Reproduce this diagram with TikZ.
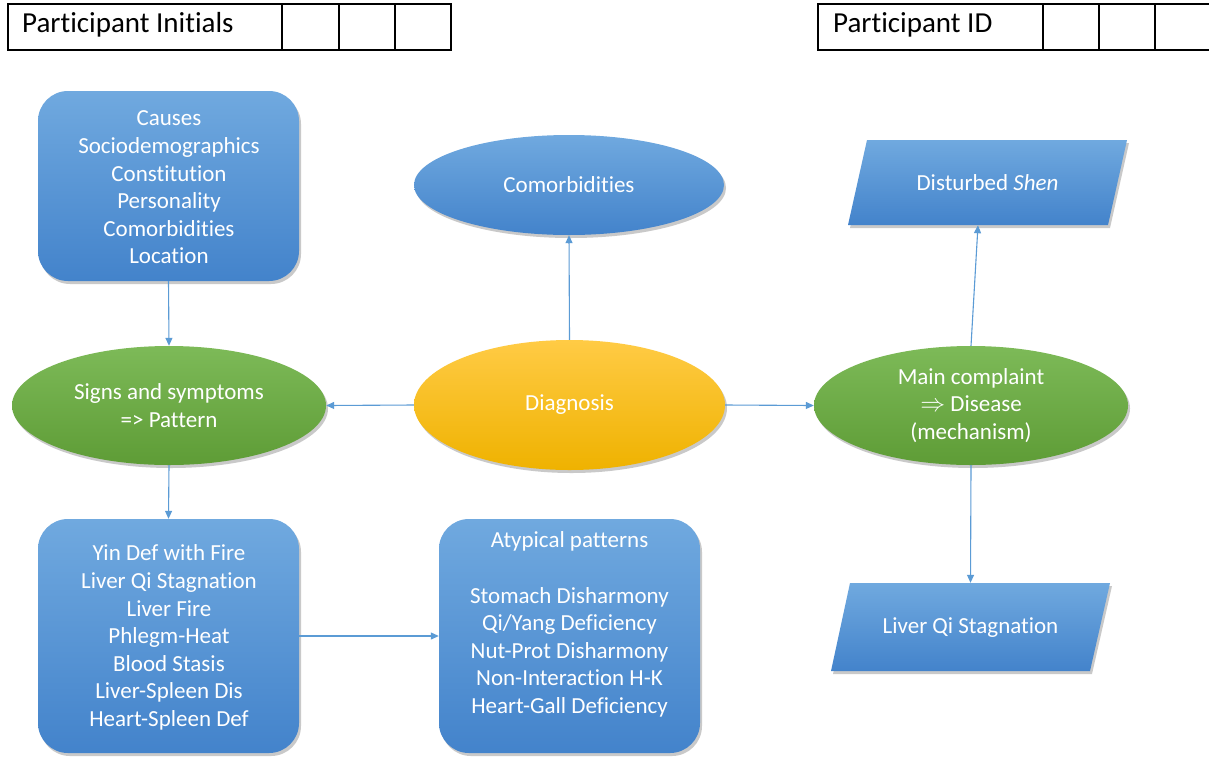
\documentclass[tikz,border=0pt]{standalone}
\usepackage{fontspec}
\setmainfont[Ligatures=NoCommon]{Carlito}
\usetikzlibrary{shapes.geometric,shadows,arrows.meta}
\definecolor{bluetop}{HTML}{70A9DF}
\definecolor{bluebot}{HTML}{4383CB}
\definecolor{greentop}{HTML}{7DBA58}
\definecolor{greenbot}{HTML}{5E9C36}
\definecolor{goldtop}{HTML}{FFCB45}
\definecolor{goldbot}{HTML}{EFB200}
\definecolor{conncol}{HTML}{5B9BD5}
\begin{document}
\begin{tikzpicture}[x=1pt,y=-1pt,
  txt/.style={text=white, align=center, font=\fontsize{23}{27.6}\selectfont, inner sep=0pt},
  shad/.style={drop shadow={opacity=0.35, shadow xshift=2pt, shadow yshift=-3pt, fill=black!60}},
  bluefill/.style={top color=bluetop, bottom color=bluebot, draw=none, shad},
  bluebox/.style={rectangle, rounded corners=30pt, bluefill, minimum width=261pt, minimum height=234pt},
  greenell/.style={ellipse, top color=greentop, bottom color=greenbot, draw=none, shad, minimum width=314pt, minimum height=119pt, txt},
  conn/.style={draw=conncol, line width=1.1pt, -{Triangle[length=8pt,width=7pt]}},
  hdr/.style={font=\fontsize{29}{34}\selectfont, anchor=west, inner sep=0pt}
]
\useasboundingbox (0,0) rectangle (1209,758);
\fill[white] (0,0) rectangle (1209,758);

% header boxes
\draw[line width=2pt] (8,4) rectangle (451,50);
\draw[line width=2pt] (282,4) -- (282,50) (339,4) -- (339,50) (395,4) -- (395,50);
\node[hdr] (pinit) at (22,25) {Participant Initials};
\draw[line width=2pt] (818,4) rectangle (1215,50);
\draw[line width=2pt] (1043,4) -- (1043,50) (1099,4) -- (1099,50) (1155,4) -- (1155,50);
\node[hdr] (pid) at (833,25) {Participant ID};

% top row
\node[bluebox, minimum height=190pt] (causes) at (168.5,186) {};
\node[txt] (causestext) at (169,187.5)
  {Causes\\Sociodemographics\\Constitution\\Personality\\Comorbidities\\Location};
\node[ellipse, bluefill, minimum width=310pt, minimum height=100pt, txt] (comorb) at (569,185) {Comorbidities};
\path[bluefill] (867,140) -- (1127,140) -- (1108,225) -- (848,225) -- cycle;
\node[txt, minimum width=240pt, minimum height=85pt] (shen) at (987.5,182.5) {Disturbed \textit{Shen}};

% middle row
\node[greenell] (signs) at (169,405.5) {Signs and symptoms\\=> Pattern};
\node[ellipse, top color=goldtop, bottom color=goldbot, draw=none, shad, minimum width=311pt, minimum height=130pt, txt] (diag) at (569.5,405) {Diagnosis};
\node[greenell] (main) at (971,405.5) {Main complaint\\$\Rightarrow$ Disease\\(mechanism)};

% bottom row
\node[bluebox] (yin) at (168.5,636) {};
\node[txt] (yintext) at (169,637.5)
  {Yin Def with Fire\\Liver Qi Stagnation\\Liver Fire\\Phlegm-Heat\\Blood Stasis\\Liver-Spleen Dis\\Heart-Spleen Def};
\node[bluebox] (atyp) at (569.5,636) {};
\node[txt] (atyptext) at (569.5,624.5)
  {Atypical patterns\\ \\Stomach Disharmony\\Qi/Yang Deficiency\\Nut-Prot Disharmony\\Non-Interaction H-K\\Heart-Gall Deficiency};
\path[bluefill] (850,583) -- (1110,583) -- (1090,671) -- (831,671) -- cycle;
\node[txt, minimum width=240pt, minimum height=88pt] (lqs) at (970.5,628) {Liver Qi Stagnation};

% connectors
\draw[conn] (causes.south) -- (signs.north);
\draw[conn] (diag.west) -- (signs.east);
\draw[conn] (diag.north) -- (comorb.south);
\draw[conn] (diag.east) -- (main.west);
\draw[conn] (main.north) -- ([xshift=-9.5pt]shen.south);
\draw[conn] (main.south) -- ([yshift=1pt]lqs.north);
\draw[conn] (signs.south) -- (yin.north);
\draw[conn] (yin.east) -- (atyp.west);
\end{tikzpicture}
\end{document}
